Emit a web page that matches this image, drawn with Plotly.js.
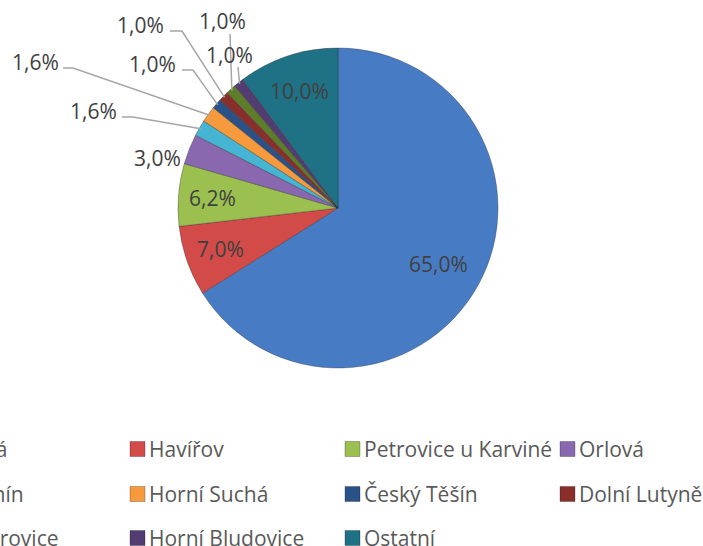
<!DOCTYPE html>
<html>
<head>
<meta charset="utf-8">
<script src="https://cdn.plot.ly/plotly-3.0.1.min.js"></script>
<style>html,body{margin:0;padding:0;background:#fff;}#chart{width:703px;height:546px;}</style>
</head>
<body>
<div id="chart"></div>
<script>
// ---- data ----
const categories = ['Karviná','Havířov','Petrovice u Karviné','Orlová','Bohumín','Horní Suchá','Český Těšín','Dolní Lutyně','Dětmarovice','Horní Bludovice','Ostatní'];
const shares = [65.0, 7.0, 6.2, 3.0, 1.6, 1.6, 1.0, 1.0, 1.0, 1.0, 10.0];

// ---- styles / layout config ----
const sliceColors = ['#477CC4','#D24B48','#9BC050','#8A68B0','#45B5D3','#F79A3E','#2A5286','#8A2E2C','#5E7D2A','#533C72','#1F7186'];
const W = 703, H = 546, CX = 338, CY = 208, R = 160;
// label placement (pixels): inside labels by radius factor, outside labels by text centre + elbow start
const labelCfg = [
  {mode:'in', r:0.72},
  {mode:'in', r:0.78},
  {mode:'in', r:0.79},
  {mode:'out', tx:157, ty:158},
  {mode:'lead', tx:93, ty:111, lx0:122, ly0:117, lx1:133},
  {mode:'lead', tx:35, ty:62, lx0:63, ly0:68, lx1:73},
  {mode:'lead', tx:152, ty:64, lx0:182, ly0:70, lx1:193},
  {mode:'lead', tx:140, ty:25, lx0:170, ly0:31, lx1:182},
  {mode:'vert', tx:222, ty:21, lx0:230, ly0:34},
  {mode:'vert', tx:230, ty:55, lx0:238, ly0:67},
  {mode:'in', r:0.77}
];
const legendCols = 4, legendX0 = -85, legendColW = 215, legendRows = [449, 494, 538];

const px = x => x / W;
const py = y => 1 - y / H;
const fmt = v => v.toFixed(1).replace('.', ',') + '%';

const total = shares.reduce((a,b)=>a+b,0);
let cum = 0;
const annotations = [], shapes = [];
const labelFont = {family:'Open Sans, sans-serif', size:21, color:'#404040'};

shares.forEach((v,i)=>{
  const a0 = cum / total * 2 * Math.PI;
  cum += v;
  const a1 = cum / total * 2 * Math.PI;
  const am = (a0 + a1) / 2;
  const dx = Math.sin(am), dy = -Math.cos(am);
  const c = labelCfg[i];
  let tx, ty;
  if (c.mode === 'in') {
    tx = CX + dx * R * c.r; ty = CY + dy * R * c.r;
  } else {
    tx = c.tx; ty = c.ty;
    const ex = CX + dx * R * 0.99, ey = CY + dy * R * 0.99;
    if (c.mode === 'lead') {
      shapes.push({type:'path', xref:'paper', yref:'paper',
        path:`M ${px(c.lx0)} ${py(c.ly0)} L ${px(c.lx1)} ${py(c.ly0)} L ${px(ex)} ${py(ey)}`,
        line:{color:'#A6A6A6', width:1.5}});
    } else if (c.mode === 'vert') {
      shapes.push({type:'path', xref:'paper', yref:'paper',
        path:`M ${px(c.lx0)} ${py(c.ly0)} L ${px(ex)} ${py(ey)}`,
        line:{color:'#A6A6A6', width:1.5}});
    }
  }
  annotations.push({xref:'paper', yref:'paper', x:px(tx), y:py(ty), xanchor:'center', yanchor:'middle',
    text:fmt(v), showarrow:false, font:labelFont});
});

// manual legend
categories.forEach((name,i)=>{
  const col = i % legendCols, row = Math.floor(i / legendCols);
  const mx = legendX0 + col * legendColW, my = legendRows[row];
  shapes.push({type:'rect', xref:'paper', yref:'paper',
    x0:px(mx), x1:px(mx+15), y0:py(my+7.5), y1:py(my-7.5),
    fillcolor:sliceColors[i], line:{color:'rgba(0,0,0,0.25)', width:1}});
  annotations.push({xref:'paper', yref:'paper', x:px(mx+17), y:py(my), xanchor:'left', yanchor:'middle',
    text:name, showarrow:false, font:{family:'Open Sans, sans-serif', size:21, color:'#595959'}});
});

const trace = {
  type:'pie', labels:categories, values:shares, sort:false, direction:'clockwise', rotation:0,
  textinfo:'none', hoverinfo:'label+percent',
  marker:{colors:sliceColors, line:{color:'rgba(40,40,40,0.35)', width:1}},
  domain:{x:[px(CX-R), px(CX+R)], y:[py(CY+R), py(CY-R)]},
  showlegend:false
};

Plotly.newPlot('chart', [trace], {
  width:W, height:H, margin:{l:0,r:0,t:0,b:0},
  paper_bgcolor:'#fff', plot_bgcolor:'#fff', showlegend:false,
  annotations:annotations, shapes:shapes
}, {displayModeBar:false, staticPlot:true});
</script>
</body>
</html>
